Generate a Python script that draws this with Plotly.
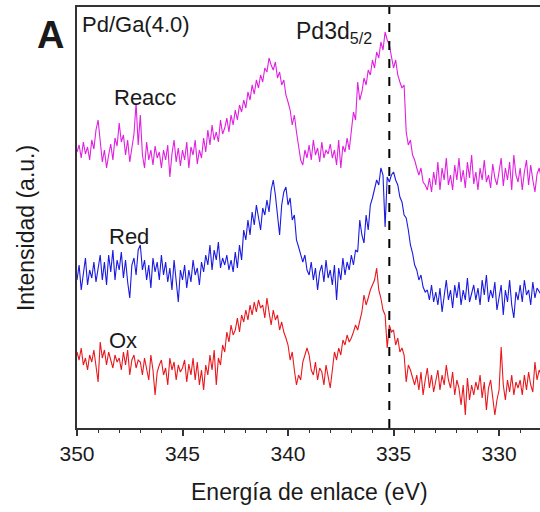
import numpy as np
import plotly.graph_objects as go

# Binding energy grid (eV), 0.1 eV step from 350 down to 328
energy = [round(350.0 - 0.1 * i, 1) for i in range(221)]

# Intensities (a.u., stacked as in the figure)
reacc = [
    278, 285, 272, 288, 276, 283, 270, 290, 281, 300,
    310, 292, 268, 280, 262, 275, 286, 270, 292, 284,
    307, 288, 295, 275, 290, 268, 282, 296, 327, 285,
    315, 275, 262, 288, 270, 280, 265, 284, 272, 278,
    262, 280, 270, 285, 253, 276, 290, 268, 282, 264,
    280, 270, 288, 262, 283, 275, 290, 266, 280, 272,
    292, 278, 300, 285, 305, 290, 298, 288, 310, 296,
    302, 312, 298, 315, 305, 320, 310, 325, 318, 330,
    322, 338, 330, 345, 336, 350, 342, 355, 348, 362,
    358, 372, 365, 360, 368, 352, 358, 345, 350, 335,
    328, 320, 305, 315, 298, 285, 270, 265, 280, 272,
    285, 270, 290, 275, 282, 268, 288, 272, 280, 276,
    286, 272, 280, 265, 290, 262, 284, 278, 292, 280,
    298, 318, 310, 348, 330, 338, 352, 345, 360, 355,
    370, 362, 378, 372, 388, 380, 398, 390, 385, 375,
    362, 370, 355, 348, 342, 345, 298, 285, 290, 275,
    270, 262, 255, 262, 248, 245, 240, 252, 238, 258,
    245, 268, 240, 262, 250, 272, 245, 255, 240, 265,
    250, 272, 248, 260, 242, 268, 252, 275, 246, 258,
    240, 262, 250, 270, 248, 255, 242, 266, 252, 245,
    258, 272, 244, 262, 250, 268, 240, 275, 255, 248,
    262, 240, 258, 270, 245, 265, 250, 238, 256, 262,
    252,
]

red = [
    150, 165, 140, 158, 172, 145, 160, 152, 168, 148,
    162, 175, 150, 168, 145, 175, 158, 180, 150, 170,
    160, 178, 152, 170, 148, 132, 165, 172, 155, 180,
    185, 160, 170, 150, 165, 142, 172, 158, 168, 150,
    175, 155, 168, 148, 162, 140, 170, 150, 128, 160,
    150, 165, 142, 160, 148, 170, 155, 162, 145, 168,
    158, 175, 165, 185, 160, 180, 170, 188, 162, 172,
    165, 175, 160, 170, 158, 178, 162, 185, 170, 200,
    190, 210, 195, 218, 205, 225, 212, 200, 222, 215,
    230, 218, 240, 250, 235, 215, 195, 225, 238, 243,
    225, 232, 210, 215, 190, 183, 175, 168, 175, 160,
    155, 168, 150, 162, 140, 158, 165, 148, 170, 152,
    160, 145, 165, 130, 162, 150, 172, 155, 168, 160,
    175, 165, 180, 178, 210, 195, 187, 215, 200, 225,
    232, 240, 250, 245, 262, 255, 203, 253, 248, 255,
    258, 250, 245, 233, 228, 215, 212, 200, 185, 177,
    165, 160, 150, 155, 143, 138, 140, 130, 145, 128,
    138, 125, 142, 118, 135, 150, 130, 140, 122, 145,
    132, 148, 125, 140, 130, 152, 128, 138, 145, 130,
    142, 125, 150, 135, 155, 128, 140, 132, 148, 120,
    135, 145, 115, 140, 128, 150, 125, 112, 138, 130,
    145, 128, 150, 135, 140, 125, 148, 132, 142, 138,
    135,
]

ox = [
    78, 70, 82, 65, 72, 60, 75, 68, 80, 62,
    48, 88, 72, 80, 65, 78, 70, 62, 75, 68,
    72, 60, 78, 65, 80, 55, 70, 75, 62, 70,
    68, 55, 72, 62, 50, 75, 60, 35, 58, 65,
    70, 55, 62, 45, 72, 60, 68, 50, 65, 58,
    62, 70, 48, 66, 55, 72, 50, 68, 45, 60,
    40, 65, 55, 75, 60, 80, 45, 72, 65, 85,
    78, 98, 88, 105, 95, 100, 112, 98, 115, 108,
    120, 110, 125, 115, 128, 118, 130, 122, 125, 112,
    132, 118, 105, 120, 110, 115, 100, 108, 98, 92,
    85, 70, 78, 60, 45, 55, 50, 68, 75, 82,
    75, 60, 55, 68, 50, 62, 58, 45, 65, 52,
    42, 60, 78, 70, 82, 75, 90, 85, 95, 88,
    92, 98, 105, 100, 110, 118, 135, 125, 132, 140,
    145, 150, 162, 140, 132, 120, 115, 82, 105, 98,
    100, 85, 92, 78, 82, 75, 48, 65, 60, 52,
    45, 55, 40, 58, 35, 50, 62, 42, 55, 38,
    48, 60, 40, 55, 45, 65, 50, 42, 58, 35,
    50, 42, 25, 45, 15, 52, 30, 45, 35, 48,
    40, 55, 32, 48, 20, 42, 50, 35, 15, 30,
    40, 83, 45, 30, 50, 38, 55, 35, 48, 42,
    50, 35, 55, 40, 58, 45, 38, 68, 50, 60,
    55,
]

peak_position = 335.2
x_ticks = [350, 345, 340, 335, 330]
x_range = [350, 328.06]
y_range = [2, 423]

FONT = "Liberation Sans, Arial, sans-serif"

fig = go.Figure()
fig.add_trace(go.Scatter(x=energy, y=ox, mode="lines",
                         line=dict(color="#e8191e", width=1.1), name="Ox"))
fig.add_trace(go.Scatter(x=energy, y=red, mode="lines",
                         line=dict(color="#1a1ae0", width=1.1), name="Red"))
fig.add_trace(go.Scatter(x=energy, y=reacc, mode="lines",
                         line=dict(color="#e020e0", width=1.1), name="Reacc"))
fig.add_trace(go.Scatter(x=[peak_position, peak_position], y=y_range, mode="lines",
                         line=dict(color="black", width=2, dash="dash"),
                         showlegend=False))

fig.update_layout(
    width=540, height=512,
    margin=dict(l=77, r=0, t=7, b=84),
    paper_bgcolor="white", plot_bgcolor="white",
    showlegend=False,
    font=dict(family=FONT, color="#1a1a1a"),
    xaxis=dict(range=x_range, tickvals=x_ticks, ticks="outside", ticklen=6,
               tickwidth=1.5, tickcolor="#333",
               minor=dict(dtick=1, ticks="outside", ticklen=3, tickwidth=1.2, tickcolor="#333"),
               showline=True, linecolor="#333", linewidth=1.5, mirror=True,
               showgrid=False, zeroline=False,
               tickfont=dict(size=21, family=FONT, color="#1a1a1a")),
    yaxis=dict(range=y_range, showticklabels=False, ticks="",
               showline=True, linecolor="#333", linewidth=1.5,
               showgrid=False, zeroline=False),
)

ann = [
    dict(text="<b>A</b>", x=-0.058, y=0.933, size=38),
    dict(text="Pd/Ga(4.0)", x=0.0065, y=0.958, size=22, xanchor="left"),
    dict(text="Pd3d<sub>5/2</sub>", x=0.469, y=0.94, size=23, xanchor="left"),
    dict(text="Reacc", x=0.147, y=0.786, size=22),
    dict(text="Red", x=0.112, y=0.456, size=22),
    dict(text="Ox", x=0.099, y=0.207, size=22),
    dict(text="Energía de enlace (eV)", x=0.503, y=-0.152, size=23),
    dict(text="Intensidad (a.u.)", x=-0.110, y=0.475, size=23, textangle=-90),
]
for a in ann:
    fig.add_annotation(text=a["text"], x=a["x"], y=a["y"], xref="paper", yref="paper",
                       xanchor=a.get("xanchor", "center"), yanchor="middle",
                       showarrow=False, textangle=a.get("textangle", 0),
                       font=dict(size=a["size"], family=FONT, color="#1a1a1a"))

fig.write_html("out.html", config={"displayModeBar": False},
               post_script="document.body.style.margin='0px';document.body.style.overflow='hidden';")
